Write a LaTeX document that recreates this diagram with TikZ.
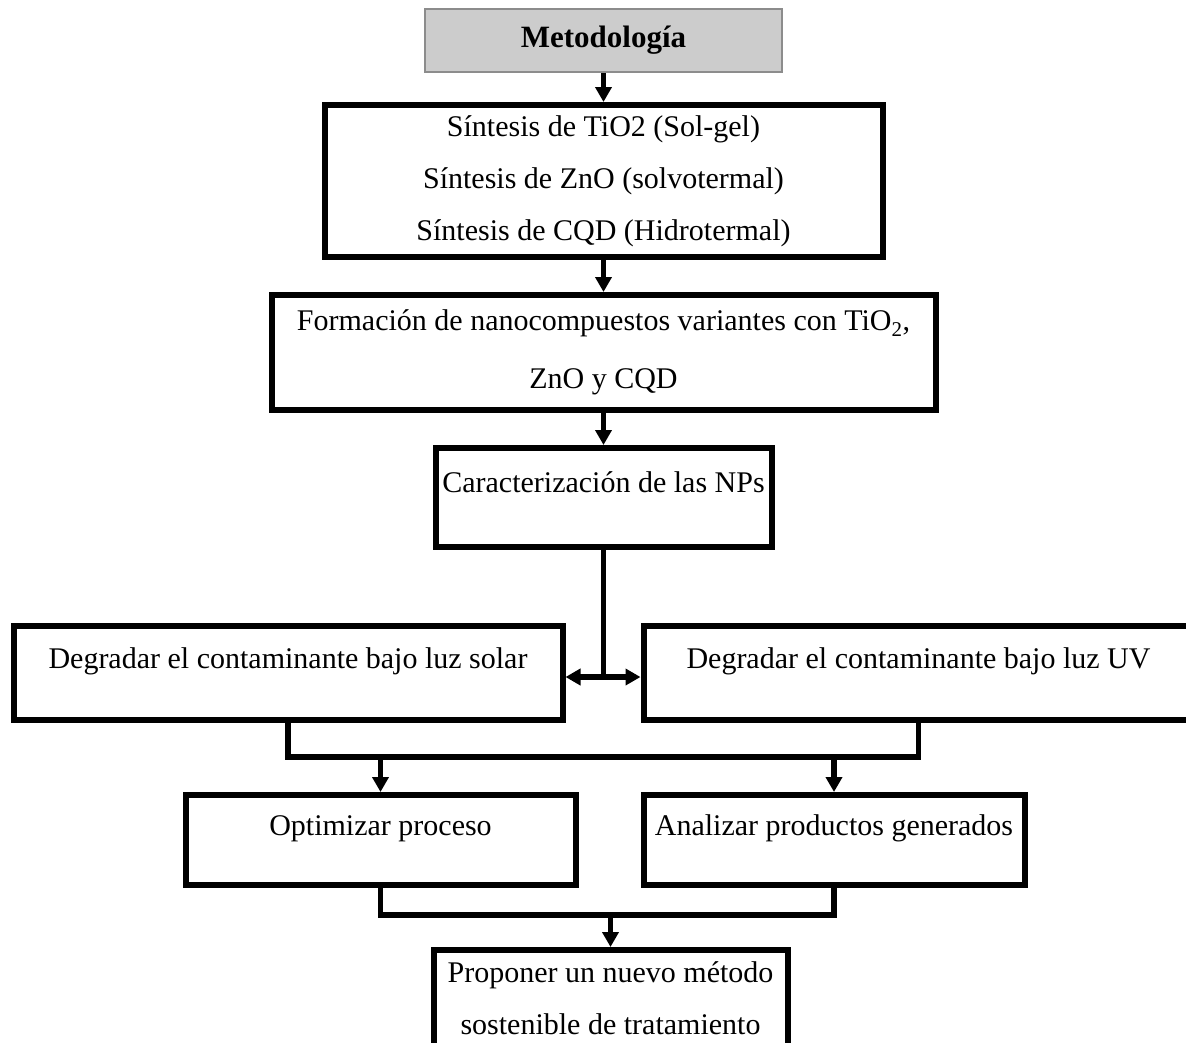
\documentclass[tikz,border=0pt]{standalone}
\usepackage{fontspec}
\setmainfont{Liberation Serif}
\usetikzlibrary{arrows.meta,calc,positioning}
\tikzset{>={Triangle[length=15pt,width=16pt]}}
\tikzset{
  head/.style={rectangle,draw=black!45,line width=2pt,fill=black!20,inner sep=0pt},
  stage/.style={rectangle,draw,line width=6pt,align=center,inner sep=3pt},
  uptext/.style={text height=20pt,text depth=30pt}
}

\begin{document}
\begin{tikzpicture}[x=1pt,y=1pt,font=\fontsize{30}{52}\selectfont,line width=5.5pt]
  \useasboundingbox (0,0) rectangle (1186,-1042);
  \node[head,minimum width=357pt,minimum height=63pt] (Meto) at (603.5,-40.5) {\fontsize{31}{52}\selectfont\textbf{Metodología}};
  \node[stage,below=29pt of Meto,minimum width=558pt,minimum height=152pt] (Sintesis) {Síntesis de TiO2 (Sol-gel)\\Síntesis de ZnO (solvotermal)\\Síntesis de CQD (Hidrotermal)};
  \node[stage,below=32pt of Sintesis,minimum width=664pt,minimum height=115pt] (Forma) {Formación de nanocompuestos variantes con TiO\textsubscript{2},\\[6pt]ZnO y CQD};
  \node[stage,uptext,below=32pt of Forma,minimum width=336pt,minimum height=99pt] (Caract) {Caracterización de las NPs};
  \node[stage,uptext,below=73pt of Caract,xshift=-315.5pt,minimum width=549pt,minimum height=94pt] (Solar) {Degradar el contaminante bajo luz solar};
  \node[stage,uptext,right=75pt of Solar,minimum width=550pt,minimum height=94pt] (UV) {Degradar el contaminante bajo luz UV};
  \node[stage,uptext,below=69pt of Solar,xshift=92.5pt,minimum width=390pt,minimum height=90pt] (Optim) {Optimizar proceso};
  \node[stage,uptext,right=62pt of Optim,minimum width=381pt,minimum height=90pt] (Analiz) {Analizar productos generados};
  \node[stage,below=59pt of Optim,xshift=230pt,minimum width=354pt,minimum height=97pt] (Propuesta) {Proponer un nuevo método\\sostenible de tratamiento};
  \draw[->] (Meto) -- (Sintesis);
  \draw[->] (Sintesis) -- (Forma);
  \draw[->] (Forma) -- (Caract);
  \coordinate (Split) at ($(Caract.south)+(0,-127)$);
  \draw (Caract) -- (Split);
  \draw[->] (Split) -- (Split -| Solar.east);
  \draw[->] (Split) -- (Split -| UV.west);
  \coordinate (JoinA) at ($(Solar.south)+(0,-34)$);
  \draw (Solar) -- (JoinA) -- (JoinA -| UV.south) -- (UV);
  \draw[->] (JoinA -| Optim.north) -- (Optim);
  \draw[->] (JoinA -| Analiz.north) -- (Analiz);
  \coordinate (JoinB) at ($(Optim.south)+(0,-27)$);
  \draw (Optim) -- (JoinB) -- (JoinB -| Analiz.south) -- (Analiz);
  \draw[->] (JoinB -| Propuesta.north) -- (Propuesta);
\end{tikzpicture}
\end{document}
